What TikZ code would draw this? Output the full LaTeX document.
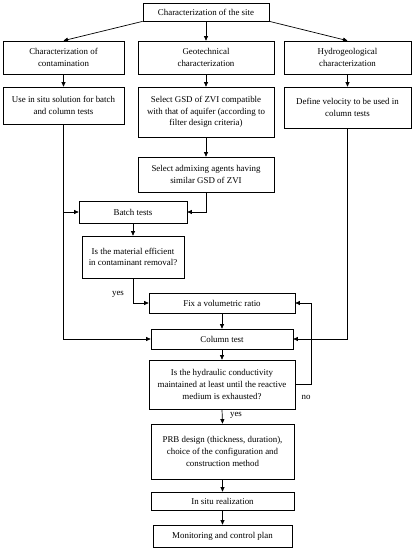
\documentclass[tikz,border=0pt]{standalone}
\usepackage{fontspec}
\setmainfont{Liberation Serif}
\usetikzlibrary{arrows.meta}
\begin{document}
\begin{tikzpicture}[x=1pt,y=-1pt,
  box/.style={draw, line width=0.7pt, align=center, inner sep=0pt, font=\fontsize{8.9}{11.7}\selectfont},
  arr/.style={line width=0.7pt, -{Triangle[length=4.5pt,width=4pt]}},
  lbl/.style={font=\fontsize{8.9}{10}\selectfont, inner sep=0pt}]
\useasboundingbox (0,0) rectangle (414,550);
\node[box, minimum width=126, minimum height=18] (site) at (206,12) {Characterization of the site};
\node[box, minimum width=121, minimum height=33] (cont) at (63.5,57.5) {Characterization of\\contamination};
\node[box, minimum width=136, minimum height=33] (geo) at (206,57.5) {Geotechnical\\characterization};
\node[box, minimum width=127, minimum height=33] (hydro) at (347.5,57.5) {Hydrogeological\\characterization};
\node[box, minimum width=121, minimum height=37] (use) at (63.5,105.5) {Use in situ solution for batch\\and column tests};
\node[box, minimum width=136, minimum height=50] (gsd) at (206,112) {Select GSD of ZVI compatible\\with that of aquifer (according to\\filter design criteria)};
\node[box, minimum width=127, minimum height=41] (vel) at (347.5,107.5) {Define velocity to be used in\\column tests};
\node[box, minimum width=136, minimum height=35] (adm) at (206,174.5) {Select admixing agents having\\similar GSD of ZVI};
\node[box, minimum width=108, minimum height=22] (batch) at (133,212) {Batch tests};
\node[box, minimum width=102, minimum height=42] (eff) at (133,257) {Is the material efficient\\in contaminant removal?};
\node[box, minimum width=146, minimum height=20] (fix) at (222,303) {Fix a volumetric ratio};
\node[box, minimum width=142, minimum height=20] (col) at (222,339) {Column test};
\node[box, minimum width=146, minimum height=49] (q) at (222,384.5) {Is the hydraulic conductivity\\maintained at least until the reactive\\medium is exhausted?};
\node[box, minimum width=143, minimum height=55] (prb) at (222.5,451.5) {PRB design (thickness, duration),\\choice of the configuration and\\construction method};
\node[box, minimum width=143, minimum height=18] (insitu) at (222.5,501) {In situ realization};
\node[box, minimum width=139, minimum height=22] (mon) at (222.5,536) {Monitoring and control plan};

\draw[arr] (site.south) -- (geo.north);
\draw[arr] (site.south west) -- (cont.north);
\draw[arr] (site.south east) -- (hydro.north);
\draw[arr] (cont.south) -- (use.north);
\draw[arr] (geo.south) -- (gsd.north);
\draw[arr] (hydro.south) -- (vel.north);
\draw[arr] (gsd.south) -- (adm.north);
\draw[arr] (adm.south) |- (batch.east);
\draw[arr] (use.south) |- (col.west);
\draw[arr] (use.south |- batch.west) -- (batch.west);
\draw[arr] (batch.south) -- (eff.north);
\draw[arr] (eff.south) |- (fix.west);
\draw[arr] (fix.south) -- (col.north);
\draw[arr] (col.south) -- (q.north);
\coordinate (nr) at ([xshift=16pt]q.east);
\draw[arr] (q.east) -- (nr) |- (fix.east);
\draw[arr] (vel.south) |- (col.east);
\draw[arr] (q.south) -- (prb.north);
\draw[arr] (prb.south) -- (insitu.north);
\draw[arr] (insitu.south) -- (mon.north);

\node[lbl] (yes1) at (118,294) {yes};
\node[lbl] (no) at (306,397) {no};
\node[lbl] (yes2) at (236,415) {yes};
\end{tikzpicture}
\end{document}
